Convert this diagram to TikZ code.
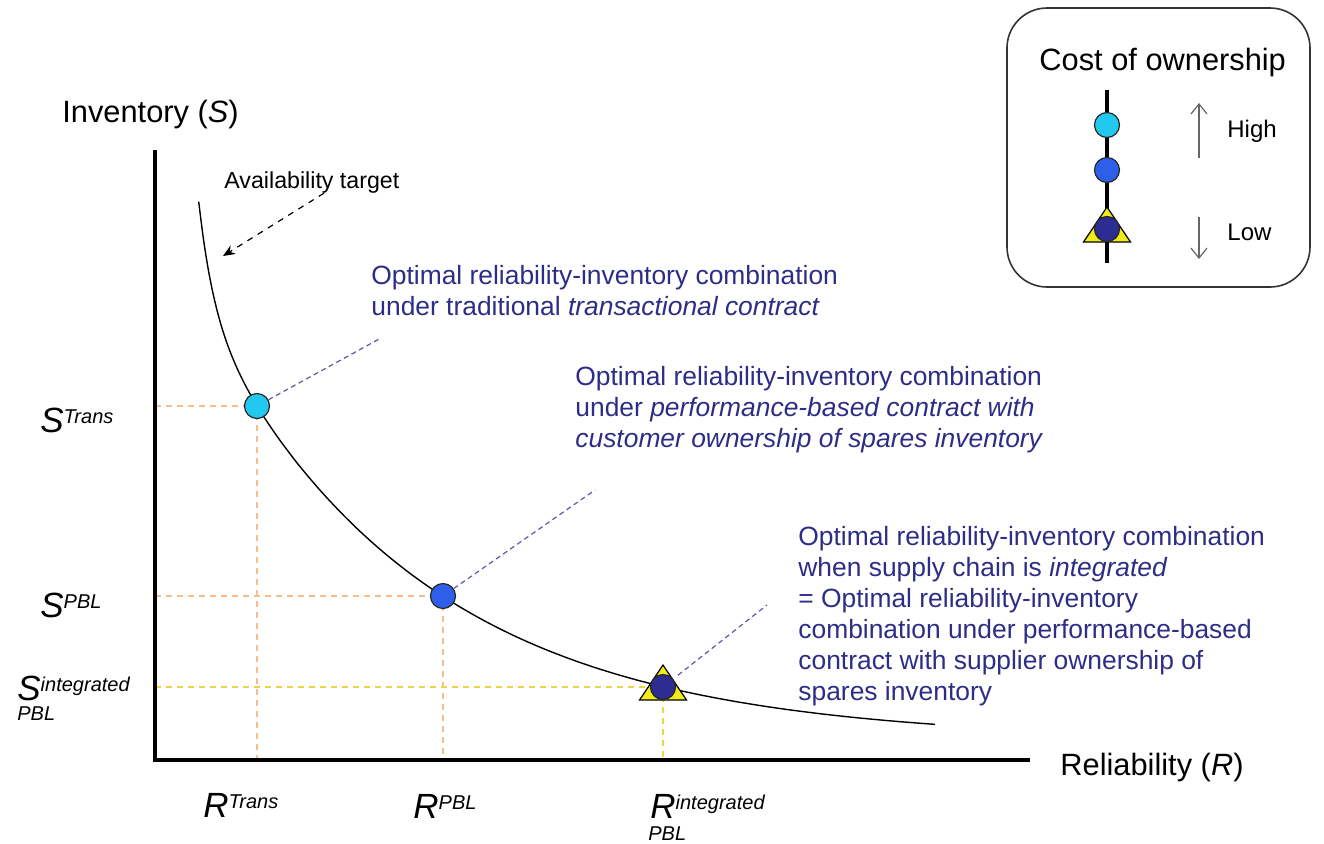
\documentclass[tikz,border=0pt]{standalone}
\usepackage{fontspec}
\setmainfont{Liberation Sans}
\usetikzlibrary{arrows.meta}

\definecolor{cyandot}{RGB}{35,200,238}
\definecolor{bluedot}{RGB}{45,95,235}
\definecolor{navydot}{RGB}{45,45,145}
\definecolor{yellowtri}{RGB}{240,235,25}
\definecolor{notetext}{RGB}{45,45,135}
\definecolor{leadline}{RGB}{90,90,170}
\definecolor{peach}{RGB}{245,190,140}
\definecolor{sand}{RGB}{232,214,70}

\newcommand{\fsz}[2]{\fontsize{#1pt}{#2pt}\selectfont}
% italic symbol with raised superscript
\newcommand{\sym}[2]{{\fsz{17.5}{20}\itshape #1}\raisebox{4.5pt}{\fsz{10}{12}\itshape #2}}

\begin{document}
\begin{tikzpicture}[x=0.5pt,y=-0.5pt,
   dot/.style={circle,draw=black!85,line width=0.6pt,minimum size=12.5pt,inner sep=0},
   lab/.style={anchor=base west,inner sep=0},
   note/.style={text=notetext,align=left,anchor=north west,inner sep=0,font=\fsz{13.2}{15.5}},
   guide/.style={line width=0.8pt,dash pattern=on 3pt off 2.5pt},
   leader/.style={draw=leadline,line width=0.6pt,dash pattern=on 2.5pt off 1.8pt}]

\useasboundingbox (0,0) rectangle (1324,843);

\tikzstyle {axis} = [line width=2.2pt];
\tikzstyle {legarrow} = [-{Straight Barb[length=5pt,width=8pt]}, line width=0.6pt, black!60];

% axes
\coordinate (ytop) at (155,150);
\coordinate (origin) at (155,760);
\coordinate (xend) at (1030,760);

% optimal points on the curve
\coordinate (t) at (257,406);
\coordinate (p) at (443,596);
\coordinate (i) at (663,687);

%\draw [help lines] (0,0) grid (1324,843);

\draw [guide,peach] (t -| origin) -- (t) -- (t |- origin);
\draw [guide,peach] (p -| origin) -- (p) -- (p |- origin);
\draw [guide,sand] (i -| origin) -- (i) -- (i |- origin);

\draw [axis] (ytop) -- (origin) -- (xend);

% availability target curve
\draw [line width=0.7pt] plot [domain=43.7:780,samples=160,smooth]
   ({155+\x},{740-525*exp(-0.0045*\x)-1836*exp(-0.065*\x)});

\node[lab,font=\fsz{15.4}{18}] (ylab) at (62,122) {Inventory (\textit{S})};
\node[lab,font=\fsz{15.4}{18}] (xlab) at (1060,775) {Reliability (\textit{R})};

\node[lab,font=\fsz{11.6}{14}] (avail) at (224,188) {Availability target};
\coordinate (target) at (223,256);
\draw [dashed,line width=0.6pt,-{Stealth[length=6pt,width=5pt]}] ([xshift=6pt]avail.south) -- (target);

% markers
\draw [fill=yellowtri,line width=0.6pt] (i) ++(0,-22) -- ++(23.5,35) -- ++(-47,0) -- cycle;
\node[dot,fill=cyandot] (tdot) at (t) {};
\node[dot,fill=bluedot] (pdot) at (p) {};
\node[dot,fill=navydot] (idot) at (i) {};

% notes
\node[note] (tnote) at (371,265) {Optimal reliability-inventory combination\\under traditional \textit{transactional contract}};
\node[note] (pnote) at (575,366) {Optimal reliability-inventory combination\\under \textit{performance-based contract with}\\\textit{customer ownership of spares inventory}};
\node[note] (inote) at (798,526) {Optimal reliability-inventory combination\\when supply chain is \textit{integrated}\\= Optimal reliability-inventory\\combination under performance-based\\contract with supplier ownership of\\spares inventory};

\coordinate (tend) at (381,338);
\coordinate (pend) at (595,490);
\coordinate (iend) at (767,605);
\draw [leader] (tdot) -- (tend);
\draw [leader] (pdot) -- (pend);
\draw [leader,shorten <=3pt] (idot) -- (iend);

% tick labels
\node[lab] (strans) at (40,432) {\sym{S}{Trans}};
\node[lab] (spbl) at (40,617) {\sym{S}{PBL}};
\node[lab] (sint) at (17,700) {\sym{S}{integrated}};
\node[lab,font=\fsz{10}{12}\itshape] (sintsub) at (17,720) {PBL};
\node[lab] (rtrans) at (203,817) {\sym{R}{Trans}};
\node[lab] (rpbl) at (413,818) {\sym{R}{PBL}};
\node[lab] (rint) at (650,818) {\sym{R}{integrated}};
\node[lab,font=\fsz{10}{12}\itshape] (rintsub) at (648,840) {PBL};

% legend
\draw [line width=0.8pt,black!80,rounded corners=20pt] (1007,8) rectangle (1310,287);
\node[lab,font=\fsz{15.4}{18}] (legtitle) at (1039,70) {Cost of ownership};
\coordinate (ltop) at (1107,90);
\coordinate (lbot) at (1107,263);
\draw [line width=2pt] (ltop) -- (lbot);
\draw [fill=yellowtri,line width=0.6pt] (1107,229) ++(0,-22) -- ++(23.5,35) -- ++(-47,0) -- cycle;
\node[dot,fill=cyandot] (lhigh) at (1107,125) {};
\node[dot,fill=bluedot] (lmid) at (1107,170) {};
\node[dot,fill=navydot] (llow) at (1107,229) {};

\coordinate (upfrom) at (1199,158);
\coordinate (upto) at (1199,103);
\coordinate (dnfrom) at (1199,217);
\coordinate (dnto) at (1199,259);
\draw [legarrow] (upfrom) -- (upto);
\draw [legarrow] (dnfrom) -- (dnto);
\node[lab,font=\fsz{12}{14}] (high) at (1227,137) {High};
\node[lab,font=\fsz{12}{14}] (low) at (1227,240) {Low};

\end{tikzpicture}
\end{document}
